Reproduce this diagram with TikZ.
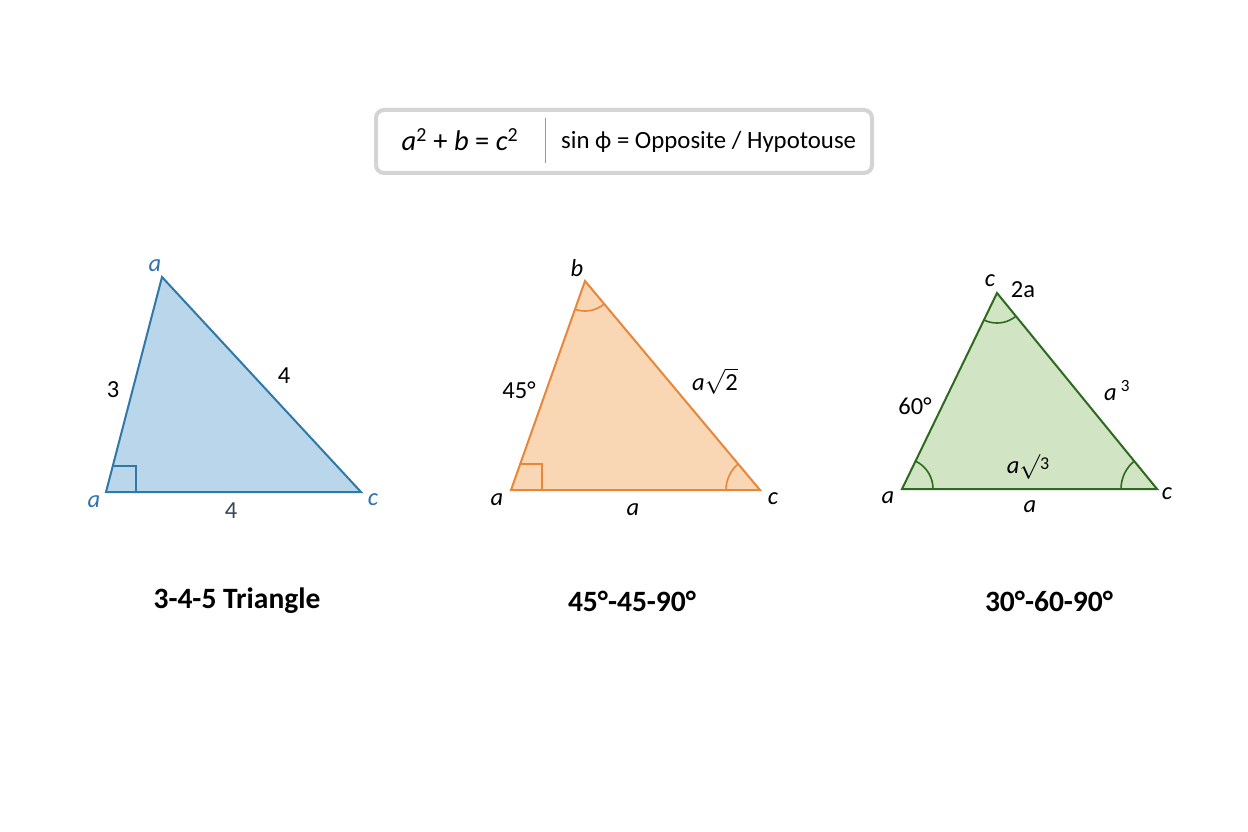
\documentclass[tikz,border=0pt]{standalone}
\usepackage{fontspec}
\setmainfont{Carlito}
\definecolor{bfill}{HTML}{B9D6EB}
\definecolor{bline}{HTML}{2F78A8}
\definecolor{blbl}{HTML}{2E72B0}
\definecolor{ofill}{HTML}{F9D6B4}
\definecolor{oline}{HTML}{E8873A}
\definecolor{gfill}{HTML}{D1E5C4}
\definecolor{gline}{HTML}{2D6A1E}
\definecolor{boxline}{HTML}{D4D4D4}
\definecolor{slate}{HTML}{36465A}
\begin{document}
\begin{tikzpicture}[x=1pt,y=-1pt,
  lbl/.style={font=\fontsize{24.5}{28}\selectfont, inner sep=0pt},
  ttl/.style={font=\bfseries\fontsize{29.5}{33}\selectfont, inner sep=0pt},
  tri/.style={line width=2pt, line join=miter},
  anglemark/.style={line width=1.6pt}]
\useasboundingbox[fill=white] (0,0) rectangle (1248,832);

% formula box
\draw[line width=4pt, draw=boxline, fill=white, rounded corners=8pt] (376,110) rectangle (872,173);
\draw[line width=1pt, draw=black!40] (545,118) -- (545,163);
\node[anchor=base, inner sep=0pt, font=\fontsize{28.5}{32}\selectfont] (pyth) at (460,151) {\textit{a}\textsuperscript{2} + \textit{b} = \textit{c}\textsuperscript{2}};
\node[anchor=base west, inner sep=0pt, font=\fontsize{24.8}{28}\selectfont] (sine) at (561,149) {sin ϕ = Opposite / Hypotouse};

% ---- blue 3-4-5 triangle
\coordinate (A1) at (106,492);
\coordinate (B1) at (162,277);
\coordinate (C1) at (361,492);
\fill[bfill] (A1) -- (B1) -- (C1) -- cycle;
\begin{scope}
  \clip (A1) -- (B1) -- (C1) -- cycle;
  \draw[anglemark, bline] (90,466) -- (136,466) -- (136,500);
\end{scope}
\draw[tri, bline] (A1) -- (B1) -- (C1) -- cycle;
\node[lbl, text=blbl] (l1a) at (155,266) {\textit{a}};
\node[lbl, text=blbl] (l1b) at (94,502) {\textit{a}};
\node[lbl, text=blbl] (l1c) at (373,500) {\textit{c}};
\node[lbl] (l13) at (113,390) {3};
\node[lbl] (l14) at (284,376) {4};
\node[lbl, text=slate] (l14b) at (231,511) {4};
\node[ttl] (t1) at (237,601) {3-4-5 Triangle};

% ---- orange 45-45-90 triangle
\coordinate (A2) at (511,490);
\coordinate (B2) at (585,281);
\coordinate (C2) at (760,490);
\fill[ofill] (A2) -- (B2) -- (C2) -- cycle;
\begin{scope}
  \clip (A2) -- (B2) -- (C2) -- cycle;
  \draw[anglemark, oline] (490,464) -- (542,464) -- (542,500);
  \draw[anglemark, oline] (B2) circle (30pt);
  \draw[anglemark, oline] (C2) circle (34pt);
\end{scope}
\draw[tri, oline] (A2) -- (B2) -- (C2) -- cycle;
\node[lbl] (l2b) at (577,268) {\textit{b}};
\node[lbl] (l245) at (519,390) {45°};
\node[lbl] (l2h) at (715,381) {\textit{a}$\sqrt{\mbox{2}}$};
\node[lbl] (l2a) at (497,500) {\textit{a}};
\node[lbl] (l2a2) at (633,510) {\textit{a}};
\node[lbl] (l2c) at (773,499) {\textit{c}};
\node[ttl] (t2) at (632,601) {45°-45-90°};

% ---- green 30-60-90 triangle
\coordinate (A3) at (902,489);
\coordinate (B3) at (997,293);
\coordinate (C3) at (1157,489);
\fill[gfill] (A3) -- (B3) -- (C3) -- cycle;
\begin{scope}
  \clip (A3) -- (B3) -- (C3) -- cycle;
  \draw[anglemark, gline] (B3) circle (30pt);
  \draw[anglemark, gline] (A3) circle (31pt);
  \draw[anglemark, gline] (C3) circle (36pt);
\end{scope}
\draw[tri, gline] (A3) -- (B3) -- (C3) -- cycle;
\node[lbl] (l3c) at (990,281) {\textit{c}};
\node[lbl] (l32a) at (1023,290) {2a};
\node[lbl] (l360) at (915,406) {60°};
\node[lbl] (l3a3) at (1117,391) {\textit{a}\,\textsuperscript{3}};
\node[lbl] (l3s3) at (1028,467) {\textit{a}$\surd$\raisebox{0.35ex}{\fontsize{18}{20}\selectfont 3}};
\node[lbl] (l3a) at (888,498) {\textit{a}};
\node[lbl] (l3a2) at (1030,507) {\textit{a}};
\node[lbl] (l3cc) at (1167,494) {\textit{c}};
\node[ttl] (t3) at (1049,601) {30°-60-90°};
\end{tikzpicture}
\end{document}
